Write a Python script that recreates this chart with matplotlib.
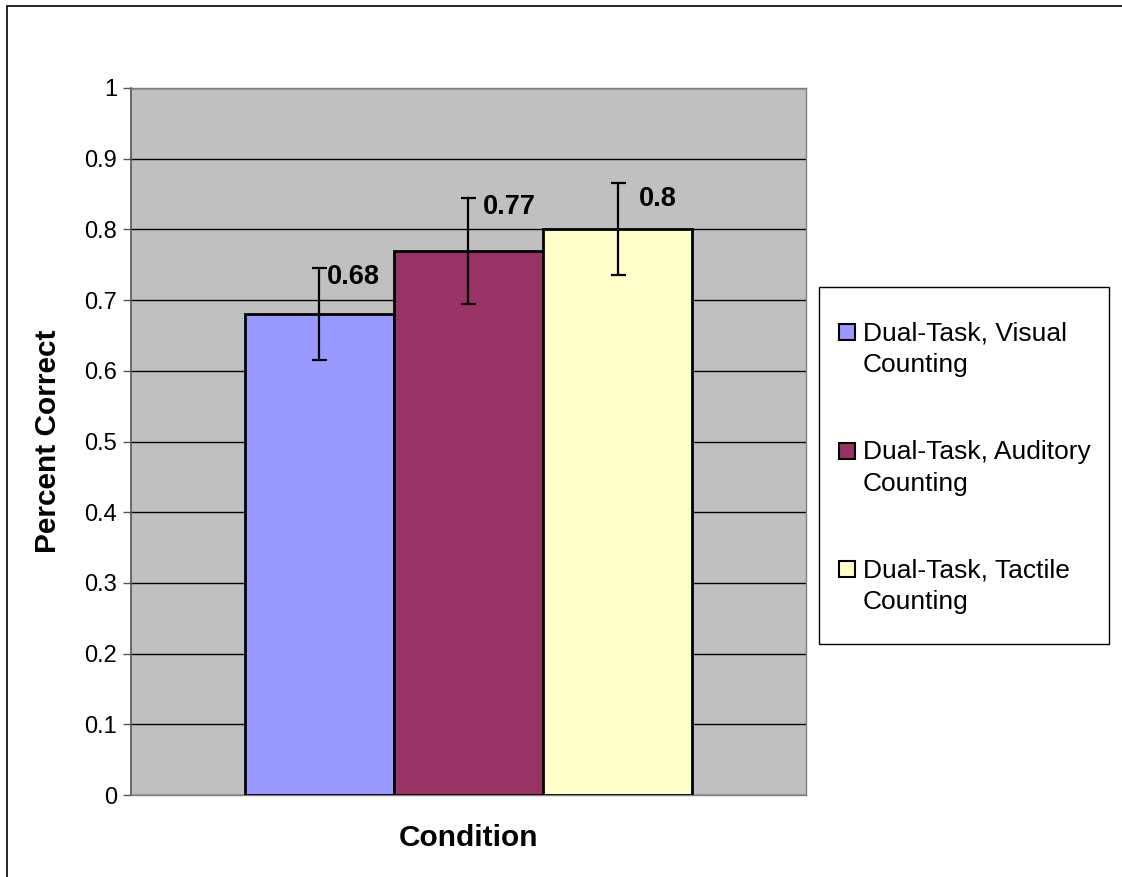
import matplotlib.pyplot as plt
from matplotlib.patches import Rectangle

plt.rcParams['font.family'] = ['Liberation Sans', 'DejaVu Sans']

conditions = ['Dual-Task, Visual\nCounting', 'Dual-Task, Auditory\nCounting', 'Dual-Task, Tactile\nCounting']
values = [0.68, 0.77, 0.80]
errors = [0.065, 0.075, 0.065]
value_labels = ['0.68', '0.77', '0.8']
colors = ['#9999FF', '#993366', '#FFFFCC']
label_offsets = [(7, 37), (14, 44), (21, 30)]  # pixels from bar top

W, H = 1122, 877
fig = plt.figure(figsize=(W / 100, H / 100), dpi=100)
# outer chart border (only top and left edges are inside the image)
fig.patches.append(Rectangle((7 / W, -0.1), 1.2, 1.1 - 6 / H,
                             transform=fig.transFigure, fill=False, edgecolor='black', lw=1.2))
ax = fig.add_axes([131 / W, 1 - 795 / H, 675 / W, 707 / H])
ax.set_facecolor('#C0C0C0')

xs = [-1, 0, 1]
for x, v, e, c, lab, off in zip(xs, values, errors, colors, value_labels, label_offsets):
    ax.bar(x, v, width=1.0, color=c, edgecolor='black', linewidth=2, zorder=3)
    ax.errorbar(x, v, yerr=e, fmt='none', ecolor='black', elinewidth=1.6, capsize=5.4, capthick=1.6, zorder=4)
    ax.annotate(lab, (x, v), xytext=(off[0] * 0.72, off[1] * 0.72), textcoords='offset points',
                ha='left', va='center', fontsize=19.5, fontweight='bold', zorder=5)

ax.set_xlim(-2.265, 2.265)
ax.set_ylim(0, 1)
ax.set_yticks([i / 10 for i in range(11)])
ax.set_yticklabels(['0'] + ['0.%d' % i for i in range(1, 10)] + ['1'])
ax.set_xticks([])
ax.tick_params(axis='y', labelsize=17, direction='out', length=6, width=1, color='#555555', pad=4)
ax.yaxis.grid(True, color='black', lw=1)
ax.set_axisbelow(True)
for s in ['top', 'right', 'bottom']:
    ax.spines[s].set_color('#808080')
    ax.spines[s].set_linewidth(1)
ax.spines['left'].set_color('#555555')
ax.spines['left'].set_linewidth(1.2)

ax.set_ylabel('Percent Correct', fontsize=21.5, fontweight='bold', labelpad=16)
ax.set_xlabel('Condition', fontsize=21.5, fontweight='bold', labelpad=21)

# legend box drawn by hand so that each swatch sits on the first text line
fig.patches.append(Rectangle((819 / W, 1 - 644 / H), 290 / W, 357 / H,
                             transform=fig.transFigure, facecolor='white', edgecolor='black', lw=1))
for i, (name, c) in enumerate(zip(conditions, colors)):
    base = 340 + i * 118.5
    fig.patches.append(Rectangle((839 / W, 1 - base / H), 16 / W, 16 / H, transform=fig.transFigure,
                                 facecolor=c, edgecolor='black', lw=1.5))
    fig.text(863 / W, 1 - (base + 32) / H, name, fontsize=19, va='baseline', ha='left', linespacing=1.4)

plt.savefig('out.png', dpi=100)
